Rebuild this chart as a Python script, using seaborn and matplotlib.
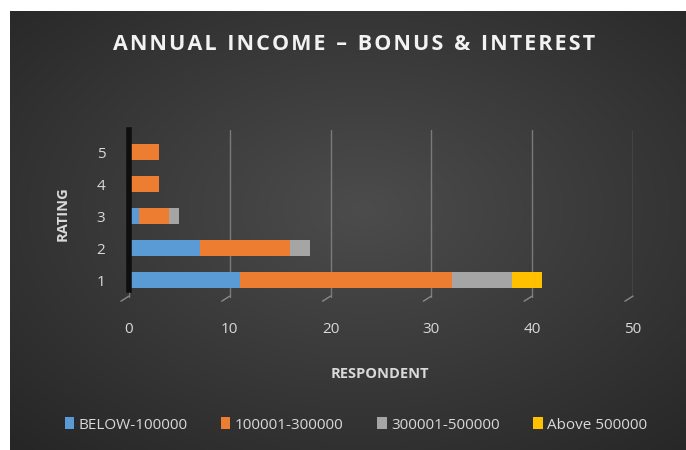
import numpy as np
import pandas as pd
import matplotlib
matplotlib.use("Agg")
import matplotlib.pyplot as plt
import seaborn as sns

ratings = ["1", "2", "3", "4", "5"]
below_100000 = [11, 7, 1, 0, 0]
r100001_300000 = [21, 9, 3, 3, 3]
r300001_500000 = [6, 2, 1, 0, 0]
above_500000 = [3, 0, 0, 0, 0]
series_names = ["BELOW-100000", "100001-300000", "300001-500000", "Above 500000"]
colors = ["#5B9BD5", "#ED7D31", "#A5A5A5", "#FFC000"]
x_ticks = [0, 10, 20, 30, 40, 50]

sns.set_theme(style="white")
plt.rcParams["font.family"] = ["Open Sans", "DejaVu Sans"]

W, H = 686, 450
fig = plt.figure(figsize=(W / 100, H / 100), dpi=100, facecolor="white")

# gradient background
bg = fig.add_axes([10 / W, 0, (W - 10) / W, (H - 11) / H])
bg.set_axis_off()
yy, xx = np.mgrid[0:200, 0:300]
cx, cy = 300 * 0.52, 200 * 0.45
d = np.sqrt(((xx - cx) / 300) ** 2 + ((yy - cy) / 200) ** 2)
d = np.clip(d / 0.75, 0, 1)
c0 = np.array([0x4c, 0x4c, 0x4c]) / 255
c1 = np.array([0x26, 0x26, 0x26]) / 255
img = c0[None, None, :] * (1 - d[..., None]) + c1[None, None, :] * d[..., None]
bg.imshow(img, aspect="auto", extent=[0, 1, 0, 1], origin="upper")
bg.set_xlim(0, 1)
bg.set_ylim(0, 1)

df = pd.DataFrame({
    "rating": ratings,
    series_names[0]: below_100000,
    series_names[1]: r100001_300000,
    series_names[2]: r300001_500000,
    series_names[3]: above_500000,
})
cum = df[series_names].cumsum(axis=1)
cum["rating"] = df["rating"]

ax_l, ax_r = 129, 633
ax_t, ax_b = 130, 298
ax = fig.add_axes([ax_l / W, 1 - ax_b / H, (ax_r - ax_l) / W, (ax_b - ax_t) / H])
ax.set_facecolor("none")

order = ["5", "4", "3", "2", "1"]
for name, col in reversed(list(zip(series_names, colors))):
    sns.barplot(data=cum, x=name, y="rating", order=order, orient="h",
                color=col, width=0.48, saturation=1, ax=ax, edgecolor="none",
                label=name)
if ax.get_legend() is not None:
    ax.get_legend().remove()

ax.set_xlim(0, 50)
ax.set_ylim(4.56, -0.69)
ax.set_xticks(x_ticks)
ax.set_xticklabels([str(t) for t in x_ticks])
ax.grid(axis="x", color="#7a7a7a", linewidth=1)
ax.grid(axis="y", visible=False)
for s in ["top", "right", "bottom"]:
    ax.spines[s].set_visible(False)
ax.spines["left"].set_color("#0e0e0e")
ax.spines["left"].set_linewidth(4)
ax.spines["left"].set_bounds(4.3, -0.69)
ax.tick_params(axis="x", colors="#d9d9d9", labelsize=11, length=0, pad=17)
ax.tick_params(axis="y", colors="#d9d9d9", labelsize=11, length=0, pad=17)

# small floor ticks
for t in x_ticks:
    ax.plot([t - 0.8, t], [4.66, 4.50], color="#8a8a8a", lw=1, clip_on=False)

ax.set_xlabel("RESPONDENT", color="#d9d9d9", fontsize=10.5, fontweight="bold")
ax.xaxis.set_label_coords((380 - ax_l) / (ax_r - ax_l), -(367 - ax_b) / (ax_b - ax_t))
ax.set_ylabel("RATING", color="#d9d9d9", fontsize=10.5, fontweight="bold")
ax.yaxis.set_label_coords(-(ax_l - 70) / (ax_r - ax_l), 0.5)

fig.text(354 / W, 1 - 44 / H, "A N N U A L  I N C O M E  –  B O N U S  &  I N T E R E S T".replace("  ", "\u2002").replace(" ", "\u200a"),
         ha="center", va="center", color="#f2f2f2", fontsize=15.5, fontweight="bold")

handles, labels = ax.get_legend_handles_labels()
hmap = dict(zip(labels, handles))
leg = fig.legend([hmap[n] for n in series_names], series_names, loc="center",
                 bbox_to_anchor=(356 / W, 1 - 425 / H), ncol=4, frameon=False,
                 fontsize=11, labelcolor="#d9d9d9", handlelength=0.6, handleheight=0.8,
                 handletextpad=0.3, columnspacing=2.2)

fig.savefig("out.png", dpi=100, facecolor="white")
